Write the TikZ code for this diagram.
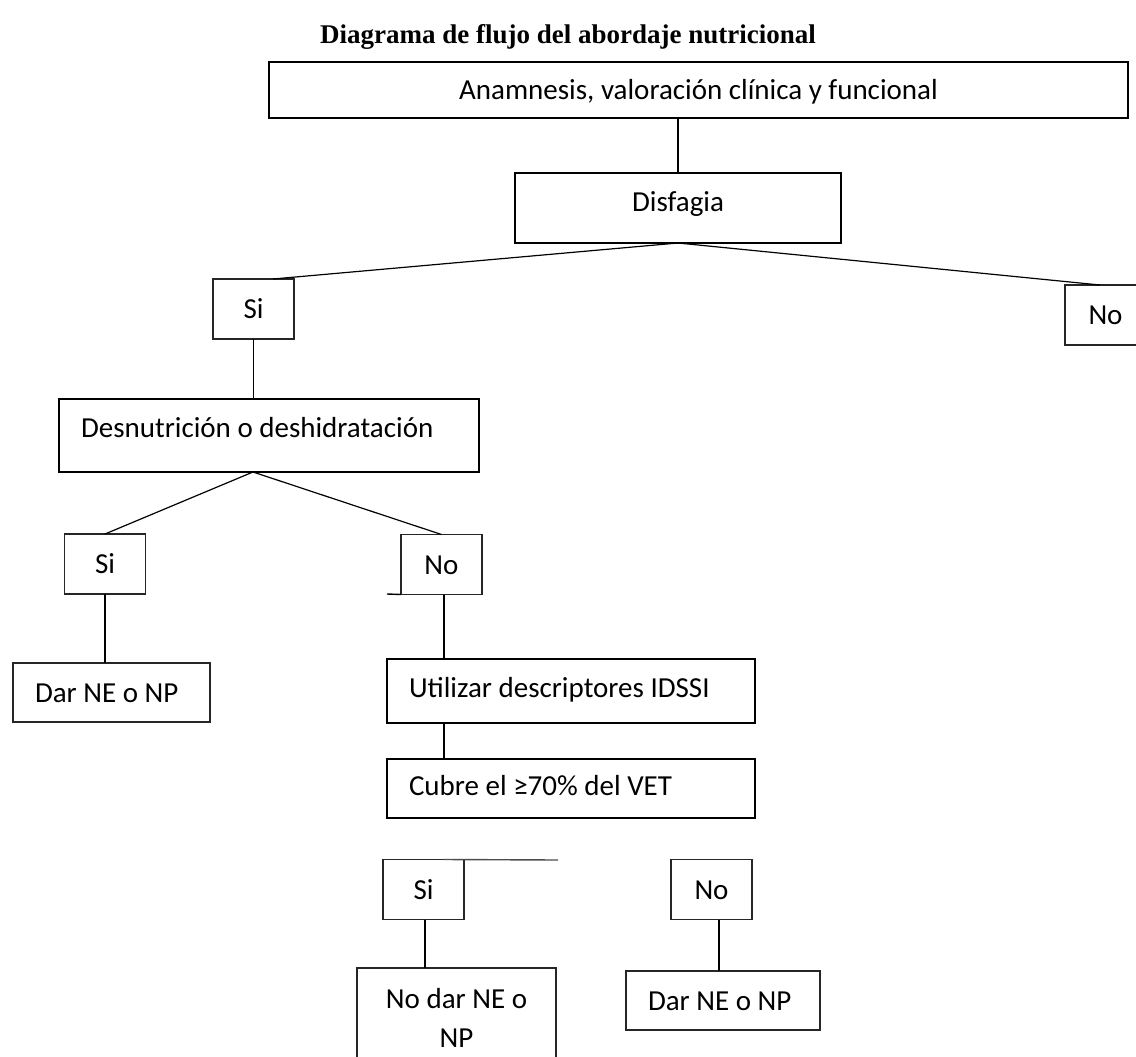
\documentclass[tikz,border=0pt]{standalone}
\usepackage{fontspec}
\setmainfont{Carlito}
\newfontfamily\titlefont{Liberation Serif}
\usepackage{tikz}
\usetikzlibrary{positioning}

\begin{document}
\begin{tikzpicture}[
  x=1pt, y=-1pt,
  font=\fontsize{29}{39}\selectfont,
  box/.style={
    draw, line width=2pt,
    inner sep=0pt, outer sep=0pt,
    text height=19pt, text depth=0pt
  },
  leftbox/.style={
    box, align=flush left, inner xsep=22pt,
    text width=#1
  },
  smallbox/.style={
    box, line width=1.4pt, draw=black!85,
    minimum width=81pt, minimum height=60pt
  },
  link/.style={line width=1.4pt},
  fan/.style={line width=1.2pt}
]
  \useasboundingbox (0,0) rectangle (1136,1057);
  \node[font=\titlefont\bfseries\fontsize{27}{32}\selectfont] (title) at (568,37)
    {Diagrama de flujo del abordaje nutricional};

  \node[box, minimum width=859pt, minimum height=56pt] (anam) at (698.5,90)
    {Anamnesis, valoración clínica y funcional};
  \node[box, minimum width=326pt, minimum height=70pt, text depth=13pt] (disf) at (678,208)
    {Disfagia};
  \node[smallbox] (si1) at (253.5,309) {Si};
  \node[smallbox] (no1) at (1105.5,315) {No};

  \node[leftbox=376pt, minimum height=73pt, text depth=16pt] (desn) at (269,435.5)
    {Desnutrición o deshidratación};
  \node[smallbox] (si2) at (105,564) {Si};
  \node[smallbox] (no2) at (441.5,564.5) {No};
  \node[leftbox=153pt, minimum height=59pt, line width=1.4pt, draw=black!85] (dar1) at (111.5,692.5)
    {Dar NE o NP};

  \node[leftbox=324pt, minimum height=64pt, text depth=6pt] (util) at (571,691)
    {Utilizar descriptores IDSSI};
  \node[leftbox=324pt, minimum height=59pt, text depth=6pt] (cubre) at (571,788.5)
    {Cubre el ≥70\% del VET};

  \node[smallbox, line width=1.2pt] (si3) at (423.5,889.5) {Si};
  \node[smallbox, line width=1.2pt] (no3) at (711.5,889.5) {No};
  \node[draw=black!85, line width=1.2pt, inner xsep=0pt, inner ysep=20pt, outer sep=0pt,
    anchor=north, align=flush center, text width=199pt] (nodar) at (456.5,968)
    {No dar NE o\\NP};
  \node[leftbox=150pt, minimum height=59pt, line width=1.2pt, draw=black!85] (dar2) at (723,1000.5)
    {Dar NE o NP};

  \coordinate (nostub) at (387,594);
  \coordinate (sistub) at (558,860);

  \draw[link, line width=1.7pt] (disf.north) -- (disf.north |- anam.south);
  \draw[fan] (disf.south) -- ([xshift=19.5pt]si1.north);
  \draw[fan] (disf.south) -- ([xshift=-5.5pt]no1.north);
  \draw[link, line width=1.7pt] (si1.south) -- (si1.south |- desn.north);
  \draw[fan] ([xshift=-16pt]desn.south) -- (si2.north);
  \draw[fan] ([xshift=-16pt]desn.south) -- (no2.north);
  \draw[link] (si2.south) -- (si2.south |- dar1.north);
  \draw[link, line width=1.7pt] ([xshift=2.5pt]no2.south) -- ([xshift=2.5pt]no2.south |- util.north);
  \draw[link] (no2.south west) -- (nostub);
  \draw[link, line width=1.7pt] ([xshift=2.5pt]no2.south |- util.south) -- ([xshift=2.5pt]no2.south |- cubre.north);
  \draw[link, draw=black!70] ([xshift=19.5pt]si3.north) -- (sistub);
  \draw[link, line width=1.2pt] ([xshift=1.5pt]si3.south) -- ([xshift=1.5pt]si3.south |- nodar.north);
  \draw[link, line width=1.2pt] ([xshift=7.5pt]no3.south) -- ([xshift=7.5pt]no3.south |- dar2.north);
\end{tikzpicture}
\end{document}
